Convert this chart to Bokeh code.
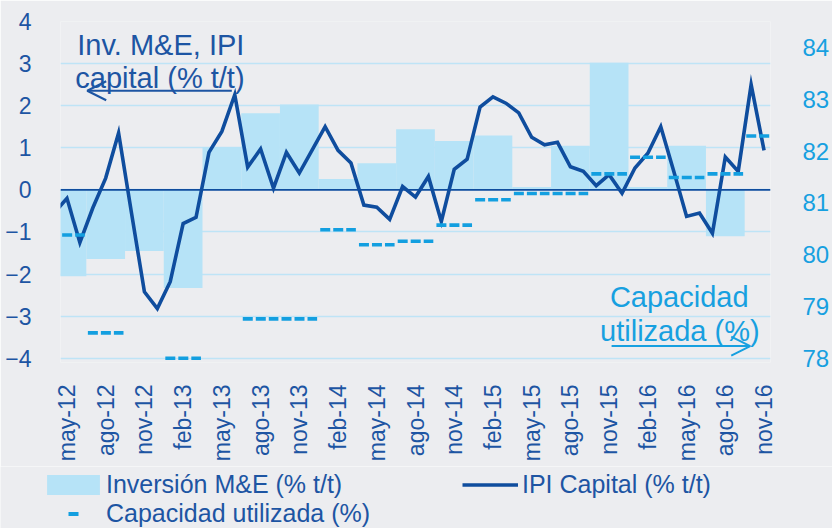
import math
from bokeh.plotting import figure
from bokeh.layouts import column
from bokeh.models import (Range1d, LinearAxis, FixedTicker, Span, Label, Arrow,
                          OpenHead, Legend, LegendItem)
from bokeh.embed import file_html
from bokeh.resources import INLINE

# ---------------- data ----------------
# month index: may-12 = 0 ... nov-16 = 54 (abr-12 = -1)
ipi_months = list(range(-1, 55))
ipi_capital = [-0.55, -0.2, -1.25, -0.43, 0.28, 1.35, -0.55, -2.42, -2.82, -2.18,
               -0.8, -0.65, 0.89, 1.39, 2.26, 0.54, 0.97, 0.04, 0.89, 0.4,
               0.95, 1.5, 0.94, 0.64, -0.36, -0.41, -0.7, 0.08, -0.17, 0.32,
               -0.75, 0.49, 0.73, 1.97, 2.21, 2.06, 1.83, 1.25, 1.07, 1.13,
               0.55, 0.44, 0.1, 0.36, -0.08, 0.52, 0.87, 1.5, 0.45, -0.63,
               -0.55, -1.03, 0.78, 0.44, 2.5, 0.94]

# quarters 2T12 ... 4T16 (first month index of each quarter)
quarter_start = [-1, 2, 5, 8, 11, 14, 17, 20, 23, 26, 29, 32, 35, 38, 41, 44, 47, 50, 53]
inversion_me = [-2.05, -1.64, -1.45, -2.33, 1.02, 1.82, 2.03, 0.26, 0.63, 1.44,
                1.16, 1.29, 0.07, 1.05, 3.02, 0.07, 1.05, -1.1, float("nan")]
capacidad = [80.38, 78.49, float("nan"), 78.0, float("nan"), 78.76, 78.76, 80.48, 80.19, 80.26,
             80.57, 81.06, 81.18, 81.18, 81.56, 81.88, 81.49, 81.56, 82.29]

xtick_pos = [0, 3, 6, 9, 12, 15, 18, 21, 24, 27, 30, 33, 36, 39, 42, 45, 48, 51, 54]
xtick_labels = ["may-12", "ago-12", "nov-12", "feb-13", "may-13", "ago-13", "nov-13",
                "feb-14", "may-14", "ago-14", "nov-14", "feb-15", "may-15", "ago-15",
                "nov-15", "feb-16", "may-16", "ago-16", "nov-16"]
left_ticks = [-4, -3, -2, -1, 0, 1, 2, 3, 4]
right_ticks = [78, 79, 80, 81, 82, 83, 84]

# ---------------- style ----------------
BG = "#ECEDF0"
BAR = "#B6E3F7"
GRID = "#BEE4F6"
LINE = "#0F4D9E"
DASH = "#139FE0"
DARK = "#1D55A3"
LIGHT = "#17A0E0"
FONT = "Liberation Sans"

ylo, yhi = -4.1, 4.0
# right axis: 78 <-> -4, 84.5 <-> 4
rlo = 78 + (ylo + 4) * 6.5 / 8
rhi = 84.5

p = figure(width=832, height=466, output_backend="svg", toolbar_location=None,
           x_range=Range1d(-0.5, 54.5), y_range=Range1d(ylo, yhi),
           min_border_left=60, min_border_right=55, min_border_top=21,
           min_border_bottom=104, frame_align=False)
p.extra_y_ranges = {"cap": Range1d(rlo, rhi)}
p.background_fill_color = BG
p.border_fill_color = BG
p.outline_line_color = None

# grid
p.xgrid.visible = False
p.ygrid.ticker = FixedTicker(ticks=left_ticks)
p.ygrid.grid_line_color = GRID
p.ygrid.grid_line_width = 1.6

# axes
for ax in (p.xaxis[0], p.yaxis[0]):
    ax.axis_line_color = None
    ax.major_tick_line_color = None
    ax.minor_tick_line_color = None
    ax.major_label_text_font = FONT
    ax.major_label_text_color = DARK

p.xaxis.ticker = FixedTicker(ticks=xtick_pos)
p.xaxis.major_label_overrides = {t: s for t, s in zip(xtick_pos, xtick_labels)}
p.xaxis.major_label_orientation = math.pi / 2
p.xaxis.major_label_text_font_size = "23px"
p.xaxis.major_label_standoff = 16

p.yaxis.ticker = FixedTicker(ticks=left_ticks)
p.yaxis.major_label_text_font_size = "23px"
p.yaxis.major_label_standoff = 23

rax = LinearAxis(y_range_name="cap", ticker=FixedTicker(ticks=right_ticks))
rax.axis_line_color = None
rax.major_tick_line_color = None
rax.minor_tick_line_color = None
rax.major_label_text_font = FONT
rax.major_label_text_font_size = "24px"
rax.major_label_text_color = LIGHT
rax.major_label_standoff = 26
p.add_layout(rax, "right")

# bars (quarterly investment)
q_left = [s - 0.5 for s in quarter_start]
q_right = [s + 2.5 for s in quarter_start]
p.quad(left=q_left, right=q_right, bottom=0, top=inversion_me,
       fill_color=BAR, line_color=None)

# zero line
p.add_layout(Span(location=0, dimension="width", line_color=LINE, line_width=1.6))

# IPI capital monthly line
p.line(ipi_months, ipi_capital, line_color=LINE, line_width=3.6, line_join="miter")

# capacity utilisation dashes (right axis)
inset = 0.12
p.segment(x0=[l + inset for l in q_left], x1=[r - inset for r in q_right],
          y0=capacidad, y1=capacidad, y_range_name="cap",
          line_color=DASH, line_width=3.6, line_dash="10 3")

# annotations
p.add_layout(Label(x=0.8, y=3.43, text="Inv. M&E, IPI", text_font=FONT,
                   text_font_size="29px", text_color=DARK, text_baseline="alphabetic"))
p.add_layout(Label(x=0.65, y=2.66, text="capital (% t/t)", text_font=FONT,
                   text_font_size="29px", text_color=DARK, text_baseline="alphabetic"))
p.add_layout(Arrow(x_start=12.77, y_start=2.355, x_end=1.57, y_end=2.355,
                   line_color=DARK, line_width=2,
                   end=OpenHead(size=19, line_color=DARK, line_width=2)))

p.add_layout(Label(x=42.06, y=-2.545, text="Capacidad", text_font=FONT,
                   text_font_size="29px", text_color=LIGHT, text_baseline="alphabetic"))
p.add_layout(Label(x=41.3, y=-3.35, text="utilizada (%)", text_font=FONT,
                   text_font_size="29px", text_color=LIGHT, text_baseline="alphabetic"))
p.add_layout(Arrow(x_start=42.19, y_start=-3.71, x_end=52.93, y_end=-3.71,
                   line_color=LIGHT, line_width=2,
                   end=OpenHead(size=19, line_color=LIGHT, line_width=2)))

# ---------------- legend strip ----------------
lg = figure(width=832, height=62, output_backend="svg", toolbar_location=None,
            x_range=Range1d(0, 1), y_range=Range1d(0, 1), min_border=0,
            frame_align=False)
lg.axis.visible = False
lg.grid.visible = False
lg.outline_line_color = None
lg.background_fill_color = BG
lg.border_fill_color = BG

# hidden copies of the series, used only to draw the legend keys
k_bar = lg.quad(left=q_left, right=q_right, bottom=0, top=inversion_me,
                fill_color=BAR, line_color=None, visible=False)
k_line = lg.line(ipi_months, ipi_capital, line_color=LINE, line_width=3.6,
                 visible=False)
k_dash = lg.scatter(x=q_left, y=capacidad, marker="dash", size=8,
                    line_color=DASH, line_width=4, visible=False)


def add_legend(label, renderer, loc, gw, gh, standoff):
    leg = Legend(items=[LegendItem(label=label, renderers=[renderer], index=0)],
                 location=loc, orientation="horizontal",
                 glyph_width=gw, glyph_height=gh, label_standoff=standoff,
                 label_text_font=FONT, label_text_font_size="25px",
                 label_text_color=DARK, padding=0, margin=0, spacing=0,
                 border_line_color=None, background_fill_alpha=0,
                 inactive_fill_alpha=0)
    lg.add_layout(leg)


add_legend("Inversión M&E (% t/t)", k_bar, (40, 29), 66, 25, 0)
add_legend("IPI Capital (% t/t)", k_line, (462, 29), 56, 25, 4)
add_legend("Capacidad utilizada (%)", k_dash, (40, 0), 66, 25, 0)

layout = column(p, lg, spacing=0)
open("out.html", "w").write(file_html(layout, INLINE))
